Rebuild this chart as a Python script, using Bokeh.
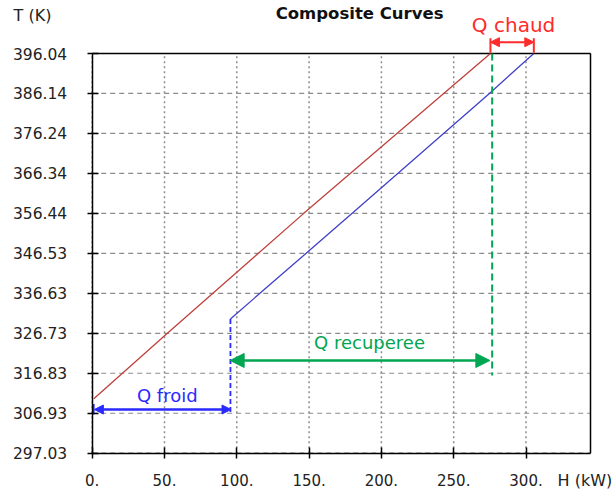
from bokeh.plotting import figure
from bokeh.models import Range1d, FixedTicker, Arrow, NormalHead, Label, LinearAxis
from bokeh.embed import file_html
from bokeh.resources import INLINE

# ---- data ----
hot_H = [1.1, 52.0, 146.3, 275.4]
hot_T = [310.5, 326.73, 356.44, 396.04]
cold_H = [95.6, 179.8, 274.7, 305.4]
cold_T = [330.3, 356.44, 386.14, 396.04]

y_ticks = [297.03, 306.93, 316.83, 326.73, 336.63, 346.53, 356.44, 366.34, 376.24, 386.14, 396.04]
y_labels = ["297.03", "306.93", "316.83", "326.73", "336.63", "346.53", "356.44", "366.34", "376.24", "386.14", "396.04"]
x_ticks = [0, 50, 100, 150, 200, 250, 300]
x_labels = ["0.", "50.", "100.", "150.", "200.", "250.", "300."]

H_MIN, H_MAX = 0.0, 344.6
T_MIN, T_MAX = 297.03, 396.04

# annotation values
q_chaud = (275.4, 305.4, 398.85)      # H start, H end, T level
q_recup = (95.4, 275.0, 320.0)
q_froid = (1.5, 96.0, 307.85)
pinch_cold_H = 95.6
pinch_hot_H = 276.6

# ---- layout (pixel placement of the plot box on the canvas) ----
W, H = 613, 490
BOX_L, BOX_R, BOX_T, BOX_B = 91.7, 590.0, 53.0, 452.7
kx = (BOX_R - BOX_L) / (H_MAX - H_MIN)
ky = (BOX_B - BOX_T) / (T_MAX - T_MIN)
x_range = Range1d(H_MIN - BOX_L / kx, H_MAX + (W - BOX_R) / kx)
y_range = Range1d(T_MIN - (H - BOX_B) / ky, T_MAX + BOX_T / ky)

FONT = "DejaVu Sans"
RED_TXT = "#ff2a2a"
BLUE_TXT = "#2a2aff"
GREEN = "#00a651"
GRID = "#8c8c8c"

p = figure(width=W, height=H, output_backend="svg", toolbar_location=None,
           x_range=x_range, y_range=y_range,
           x_axis_location=None, y_axis_location=None, min_border=0)
p.background_fill_color = "white"
p.border_fill_color = "white"
p.outline_line_color = None
p.xgrid.visible = False
p.ygrid.visible = False

# grid lines (inside the plot box only)
p.segment(x0=x_ticks, x1=x_ticks, y0=[T_MIN] * len(x_ticks), y1=[T_MAX] * len(x_ticks),
          line_color=GRID, line_dash="2 3", line_width=1.5)
p.segment(x0=[H_MIN] * len(y_ticks), x1=[H_MAX] * len(y_ticks), y0=y_ticks, y1=y_ticks,
          line_color=GRID, line_dash="5 4", line_width=1.2)

# plot box
p.segment(x0=[H_MIN, H_MAX], x1=[H_MAX, H_MAX], y0=[T_MAX, T_MIN], y1=[T_MAX, T_MAX],
          line_color="black", line_width=1.5)

# axes, fixed at the box edges
xaxis = LinearAxis(fixed_location=T_MIN, ticker=FixedTicker(ticks=x_ticks), bounds=(H_MIN, H_MAX))
yaxis = LinearAxis(fixed_location=H_MIN, ticker=FixedTicker(ticks=y_ticks), bounds=(T_MIN, T_MAX))
xaxis.major_label_overrides = {t: l for t, l in zip(x_ticks, x_labels)}
yaxis.major_label_overrides = {t: l for t, l in zip(y_ticks, y_labels)}
for ax in (xaxis, yaxis):
    ax.axis_line_color = "black"
    ax.axis_line_width = 1.5
    ax.major_tick_line_color = "black"
    ax.major_tick_line_width = 1.5
    ax.major_tick_in = 6
    ax.major_tick_out = 5
    ax.minor_tick_line_color = None
    ax.major_label_text_font = FONT
    ax.major_label_text_color = "#222222"
xaxis.major_label_text_font_size = "15px"
xaxis.major_label_standoff = 16
yaxis.major_label_text_font_size = "15.5px"
yaxis.major_label_standoff = 20
p.add_layout(xaxis, "below")
p.add_layout(yaxis, "left")

# composite curves
p.line(hot_H, hot_T, line_color="#c0403c", line_width=1.3)
p.line(cold_H, cold_T, line_color="#4040c8", line_width=1.3)

# Q chaud
p.add_layout(Arrow(start=NormalHead(size=9, fill_color=RED_TXT, line_color=RED_TXT),
                   end=NormalHead(size=9, fill_color=RED_TXT, line_color=RED_TXT),
                   x_start=q_chaud[0], x_end=q_chaud[1], y_start=q_chaud[2], y_end=q_chaud[2],
                   line_color=RED_TXT, line_width=2))
p.segment(x0=[q_chaud[0], q_chaud[1]], x1=[q_chaud[0], q_chaud[1]],
          y0=[396.2, 396.2], y1=[399.8, 399.8], line_color=RED_TXT, line_width=2)
p.add_layout(Label(x=(q_chaud[0] + q_chaud[1]) / 2 + 1, y=403.0, text="Q chaud",
                   text_align="center", text_baseline="middle", text_font=FONT,
                   text_font_size="20px", text_color=RED_TXT))

# Q recuperee
p.line([pinch_hot_H, pinch_hot_H], [T_MAX, 316.3], line_color=GREEN, line_width=2, line_dash="7 4")
p.add_layout(Arrow(start=NormalHead(size=14, fill_color=GREEN, line_color=GREEN),
                   end=NormalHead(size=14, fill_color=GREEN, line_color=GREEN),
                   x_start=q_recup[0], x_end=q_recup[1], y_start=q_recup[2], y_end=q_recup[2],
                   line_color=GREEN, line_width=2.5))
p.add_layout(Label(x=191.8, y=324.5, text="Q recuperee", text_align="center",
                   text_baseline="middle", text_font=FONT, text_font_size="18px",
                   text_color=GREEN))

# Q froid
p.line([pinch_cold_H, pinch_cold_H], [330.3, 307.1], line_color=BLUE_TXT, line_width=1.8, line_dash="5 3")
p.add_layout(Arrow(start=NormalHead(size=9, fill_color=BLUE_TXT, line_color=BLUE_TXT),
                   end=NormalHead(size=9, fill_color=BLUE_TXT, line_color=BLUE_TXT),
                   x_start=q_froid[0], x_end=q_froid[1], y_start=q_froid[2], y_end=q_froid[2],
                   line_color=BLUE_TXT, line_width=2.5))
p.segment(x0=[0.8], x1=[0.8], y0=[306.6], y1=[309.2], line_color=BLUE_TXT, line_width=2.5)
p.add_layout(Label(x=51.9, y=311.3, text="Q froid", text_align="center",
                   text_baseline="middle", text_font=FONT, text_font_size="18px",
                   text_color=BLUE_TXT))

# titles / axis names
p.add_layout(Label(x=184.9, y=405.9, text="Composite Curves", text_align="center",
                   text_baseline="middle", text_font=FONT, text_font_size="16.5px",
                   text_font_style="bold", text_color="#111111"))
p.add_layout(Label(x=-54.4, y=405.5, text="T (K)", text_align="left",
                   text_baseline="middle", text_font=FONT, text_font_size="16px",
                   text_color="#222222"))
p.add_layout(Label(x=321.8, y=290.2, text="H (kW)", text_align="left",
                   text_baseline="middle", text_font=FONT, text_font_size="16px",
                   text_color="#222222"))

open("out.html", "w").write(file_html(p, INLINE))
